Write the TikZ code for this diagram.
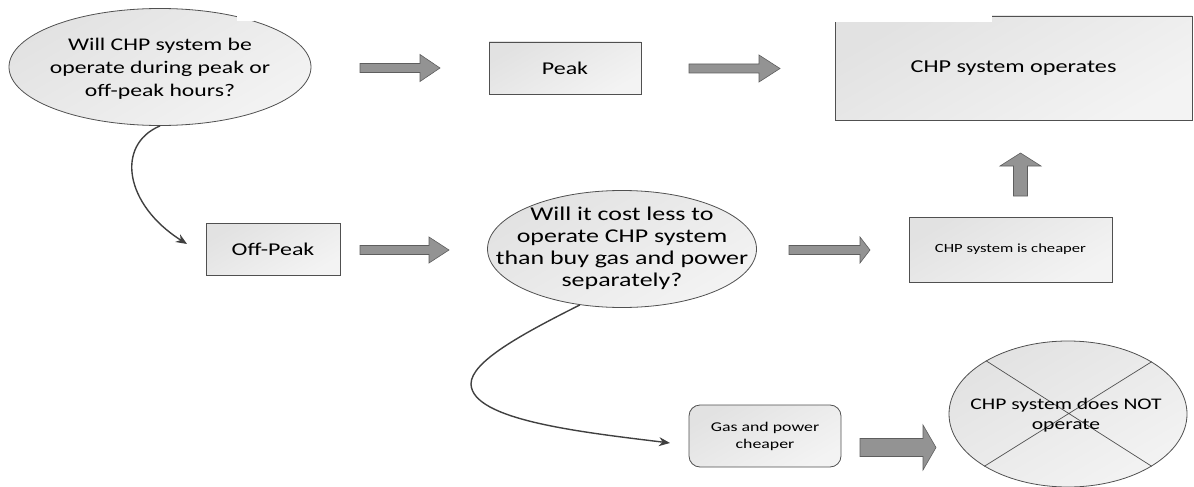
\documentclass[tikz,border=0pt]{standalone}
\usepackage{fontspec}
\setmainfont{Carlito}[FakeStretch=1.33]
\usetikzlibrary{shapes.geometric,arrows.meta}
\definecolor{bord}{HTML}{505050}
\definecolor{boxA}{HTML}{E2E2E2}
\definecolor{boxB}{HTML}{F3F3F3}
\definecolor{arrfill}{HTML}{939393}
\definecolor{arrbord}{HTML}{5E5E5E}
\definecolor{conn}{HTML}{404040}
\tikzset{
  shape box/.style={draw=bord, line width=0.8pt, top color=boxA, bottom color=boxB, shading angle=30, inner sep=0pt},
  rectbox/.style={shape box, rectangle},
  roundbox/.style={shape box, rectangle, rounded corners=11pt},
  ellbox/.style={shape box, ellipse, inner sep=0pt},
  lbl/.style={align=center, inner sep=0pt, text=black},
  blockarrow/.style={fill=arrfill, draw=arrbord, line width=0.6pt, line join=miter},
  curved/.style={draw=conn, line width=1.4pt, -{Stealth[length=11pt,width=9pt]}},
}
% right-pointing block arrow: x1, x2, y, shaft half, head half, head length
\newcommand{\rbarrow}[6]{%
  \filldraw[blockarrow] (#1,#3-#4) -- (#2-#6,#3-#4) -- (#2-#6,#3-#5) -- (#2,#3)
     -- (#2-#6,#3+#5) -- (#2-#6,#3+#4) -- (#1,#3+#4) -- cycle;}
\begin{document}
\begin{tikzpicture}[x=1pt,y=-1pt]
\useasboundingbox (0,0) rectangle (1194,487);

% nodes
\node[ellbox, minimum width=302pt, minimum height=117pt] (e1) at (160,67) {};
\node[lbl, font=\fontsize{17.8}{23}\selectfont] (e1t) at (160,69) {Will CHP system be\\operate during peak or\\off-peak hours?};

\node[rectbox, minimum width=152pt, minimum height=52pt, font=\fontsize{18}{22}\selectfont] (peak) at (565,68) {Peak};

\node[rectbox, minimum width=357pt, minimum height=104pt, font=\fontsize{18.2}{22}\selectfont] (ops) at (1013.5,68) {CHP system operates};

\node[rectbox, minimum width=134pt, minimum height=52pt, font=\fontsize{18}{22}\selectfont] (off) at (273,249) {Off-Peak};

\node[ellbox, minimum width=269pt, minimum height=117pt] (e2) at (622,249) {};
\node[lbl, font=\fontsize{19.5}{22}\selectfont] (e2t) at (622,248) {Will it cost less to\\operate CHP system\\than buy gas and power\\separately?};

\node[rectbox, minimum width=203pt, minimum height=65pt, font=\fontsize{12.5}{15}\selectfont] (cheap) at (1010.5,249.5) {CHP system is cheaper};

\node[roundbox, minimum width=152pt, minimum height=62pt, align=center, font=\fontsize{13.4}{17}\selectfont] (gas) at (765,436) {Gas and power\\cheaper};

\node[ellbox, minimum width=238pt, minimum height=146pt] (e3) at (1068,414) {};
\draw[draw=bord, line width=0.7pt] (e3.32.7) -- (e3.212.7) (e3.147.3) -- (e3.-32.7);
\node[lbl, font=\fontsize{16.2}{19.5}\selectfont] (e3t) at (1066,415) {CHP system does NOT\\operate};

% white notches (as in the reference)
\fill[white] (236.5,0) rectangle (254,21.5);
\fill[white] (833,0) rectangle (992,22);

% block arrows
\rbarrow{360}{440}{68}{4.5}{13.5}{20}
\rbarrow{689}{780}{68.5}{4.5}{13.5}{21}
\rbarrow{360}{449}{250}{4.5}{13}{20}
\rbarrow{789}{870}{250}{4.5}{13}{10}
\rbarrow{860}{936}{447.5}{9}{22.5}{13}
\filldraw[blockarrow] (1013.5,196) -- (1013.5,166) -- (1000,166) -- (1020.5,153)
   -- (1041,166) -- (1027.5,166) -- (1027.5,196) -- cycle;

% curved connectors
\coordinate (c1) at (187,244);
\coordinate (c2) at (670,443);
\draw[curved] (e1.south) .. controls (115,145) and (125,205) .. (c1);
\draw[curved] (e2.233) .. controls (520,335) and (471,362) .. (471,384)
   .. controls (472,420) and (580,432) .. (c2);
\end{tikzpicture}
\end{document}
